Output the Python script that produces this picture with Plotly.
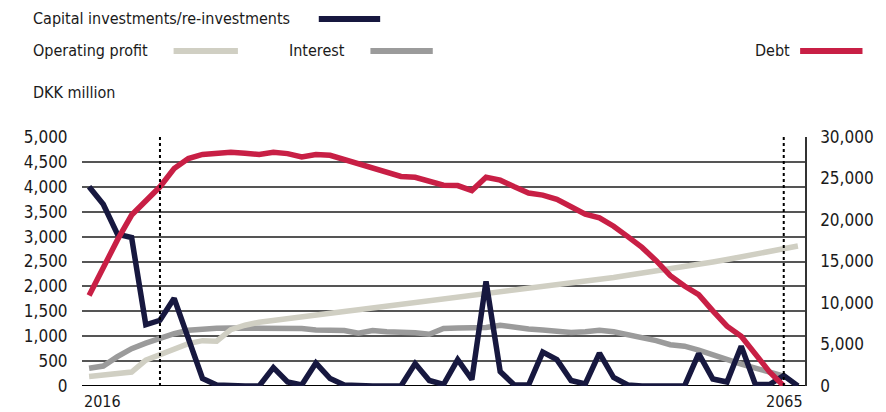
import plotly.graph_objects as go

# ---- data (DKK million) ----
years = list(range(2016, 2067))

capital = [4000, 3650, 3050, 2980, 1230, 1320, 1760, 950, 150, 20,
           0, 0, 0, 370, 80, 20, 460, 150, 20, 0,
           0, 0, 0, 450, 110, 30, 530, 130, 2100, 290,
           20, 20, 680, 530, 110, 40, 660, 170, 20, 0,
           0, 0, 0, 650, 140, 80, 800, 30, 30, 210,
           0]

operating_profit = [190, 220, 245, 280, 520, 630, 750, 850, 910, 900,
                    1130, 1220, 1280, 1320, 1355, 1390, 1425, 1460, 1495, 1530,
                    1565, 1600, 1635, 1670, 1705, 1740, 1775, 1810, 1845, 1880,
                    1915, 1955, 1995, 2035, 2070, 2100, 2140, 2180, 2225, 2265,
                    2310, 2350, 2395, 2435, 2490, 2540, 2590, 2645, 2700, 2760,
                    2810]

interest = [355, 400, 590, 750, 860, 960, 1050, 1120, 1145, 1160,
            1165, 1165, 1160, 1170, 1165, 1155, 1125, 1125, 1115, 1060,
            1115, 1090, 1090, 1070, 1040, 1155, 1165, 1160, 1175, 1220,
            1175, 1145, 1125, 1100, 1075, 1090, 1120, 1090, 1030, 980,
            910, 830, 800, 720, 620, 530, 440, 360, 280, 200,
            None]

debt = [10900, 14400, 17600, 20600, 22300, 24000, 26200, 27400, 27900, 28100,
        28150, 28050, 27900, 28150, 28000, 27600, 27900, 27800, 27300, 26750,
        26230, 25700, 25250, 25150, 24750, 24200, 24150, 23550, 25150, 24800,
        24000, 23250, 23000, 22500, 21600, 20700, 20250, 19250, 18000, 16700,
        15100, 13300, 12050, 11000, 9050, 7200, 6000, 3950, 1700, 0,
        None]

left_ticks = [0, 500, 1000, 1500, 2000, 2500, 3000, 3500, 4000, 4500, 5000]
right_ticks = [0, 5000, 10000, 15000, 20000, 25000, 30000]
marked_years = [2021, 2065]
edge_labels = ["2016", "2065"]

# ---- styling ----
NAVY = "#17183f"
LIGHT = "#d0cfc3"
GREY = "#9b9b9b"
RED = "#c81f45"
FONT = "DejaVu Sans Condensed, Liberation Sans Narrow, Liberation Sans, sans-serif"
TXT = "#1a1a1a"
W, H = 886, 412
L, R, T, B = 82, 824, 137, 386  # plot area in pixels

def px(xp):
    return (xp - L) / (R - L)

def py(yp):
    return (B - yp) / (B - T)

fig = go.Figure()
fig.add_trace(go.Scatter(x=years, y=interest, mode="lines", name="Interest",
                         line=dict(color=GREY, width=5.5), connectgaps=False))
fig.add_trace(go.Scatter(x=years, y=operating_profit, mode="lines", name="Operating profit",
                         line=dict(color=LIGHT, width=5.5)))
fig.add_trace(go.Scatter(x=years, y=capital, mode="lines", name="Capital investments/re-investments",
                         line=dict(color=NAVY, width=5.5)))
fig.add_trace(go.Scatter(x=years, y=debt, mode="lines", name="Debt", yaxis="y2",
                         line=dict(color=RED, width=5.5)))

shapes = []
# dotted period markers
for yr in marked_years:
    shapes.append(dict(type="line", xref="x", yref="y", x0=yr, x1=yr, y0=0, y1=left_ticks[-1],
                       line=dict(color="black", width=2, dash="dot"), layer="above"))
# baseline
shapes.append(dict(type="line", xref="paper", yref="y", x0=0, x1=1, y0=0, y1=0,
                   line=dict(color="black", width=2), layer="below"))

# legend swatches and labels
legend_items = [
    ("Capital investments/re-investments", NAVY, 30, 18, 325, 388),
    ("Operating profit", LIGHT, 30, 50, 176, 242),
    ("Interest", GREY, 292, 50, 378, 442),
    ("Debt", RED, 771, 50, 819, 883),
]
annotations = []
for label, color, tx, ty, sx0, sx1 in legend_items:
    annotations.append(dict(text=label, xref="paper", yref="paper", x=px(tx), y=py(ty),
                            xanchor="left", yanchor="middle", showarrow=False,
                            font=dict(family=FONT, size=16, color=TXT)))
    shapes.append(dict(type="line", xref="paper", yref="paper", x0=px(sx0), x1=px(sx1),
                       y0=py(ty + 1), y1=py(ty + 1), line=dict(color=color, width=6)))

annotations.append(dict(text="DKK million", xref="paper", yref="paper", x=px(30), y=py(92),
                        xanchor="left", yanchor="middle", showarrow=False,
                        font=dict(family=FONT, size=16, color=TXT)))
annotations.append(dict(text=edge_labels[0], xref="paper", yref="paper", x=0, y=py(401),
                        xanchor="left", yanchor="middle", showarrow=False,
                        font=dict(family=FONT, size=16, color=TXT)))
annotations.append(dict(text=edge_labels[1], xref="paper", yref="paper", x=1, y=py(401),
                        xanchor="right", yanchor="middle", showarrow=False,
                        font=dict(family=FONT, size=16, color=TXT)))

fig.update_layout(
    width=W, height=H,
    margin=dict(l=L, r=W - R, t=T, b=H - B, pad=0),
    paper_bgcolor="white", plot_bgcolor="white",
    showlegend=False,
    font=dict(family=FONT, size=16, color=TXT),
    xaxis=dict(range=[2015.5, 2066.5], showgrid=False, showticklabels=False,
               zeroline=False, showline=False, ticks=""),
    yaxis=dict(range=[0, 5000], tickvals=left_ticks, tickformat=",",
               showgrid=True, gridcolor="#555555", gridwidth=1.5,
               zeroline=False, showline=False, ticks="outside", ticklen=10,
               tickcolor="rgba(0,0,0,0)", tickfont=dict(size=17)),
    yaxis2=dict(range=[0, 30000], tickvals=right_ticks, tickformat=",",
                overlaying="y", side="right", showgrid=False, zeroline=False,
                showline=True, linecolor="#333333", linewidth=1.5,
                ticks="outside", ticklen=10, tickcolor="rgba(0,0,0,0)",
                tickfont=dict(size=17)),
    shapes=shapes,
    annotations=annotations,
)

fig.write_html("out.html")
